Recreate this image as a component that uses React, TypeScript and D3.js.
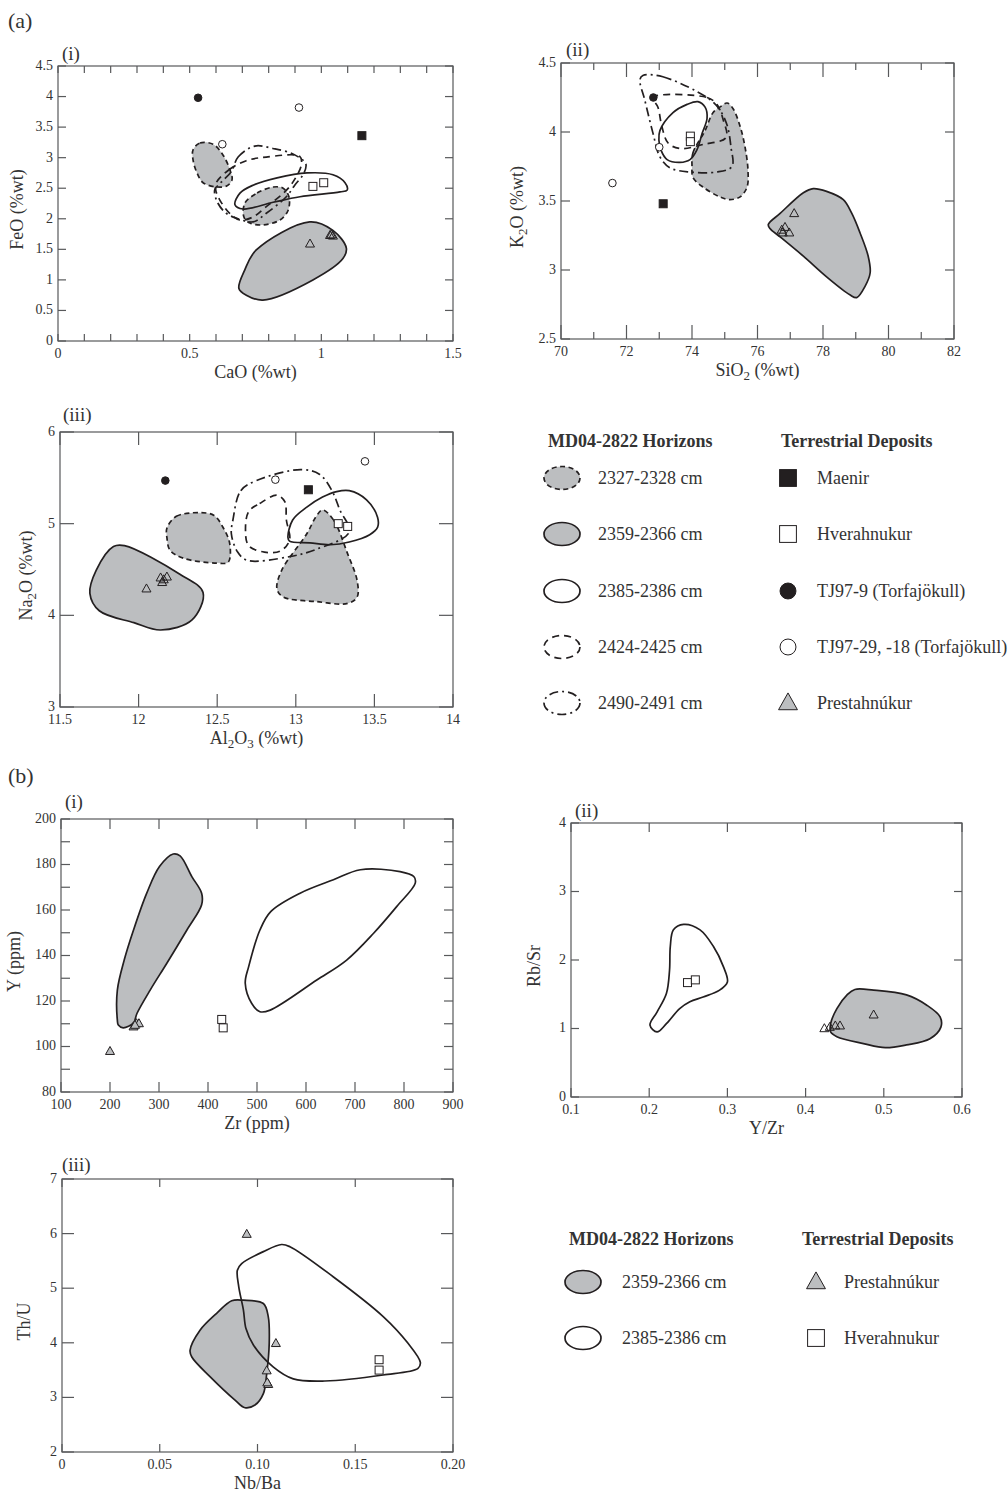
import React from "react";
import * as d3 from "d3";

type Pt = [number, number];

const FONT = "'Liberation Serif', 'Times New Roman', serif";
const INK = "#231f20";
const AXIS = "#58595b";
const TXT = "#333333";
const GRAY = "#bcbec0";
const WIDTH = 1008;
const HEIGHT = 1497;

// ---------- (a)(i) CaO vs FeO ----------
const A1_2327_UPPER: Pt[] = [[0.513, 3.13], [0.539, 3.24], [0.589, 3.22], [0.627, 3.04], [0.653, 2.8], [0.661, 2.64], [0.642, 2.54], [0.604, 2.52], [0.551, 2.59], [0.528, 2.75], [0.513, 2.96]];
const A1_2327_LOWER: Pt[] = [[0.71, 2.26], [0.756, 2.42], [0.817, 2.52], [0.855, 2.5], [0.877, 2.36], [0.874, 2.14], [0.843, 1.98], [0.779, 1.9], [0.729, 1.93], [0.706, 2.03]];
const A1_2359: Pt[] = [[0.687, 0.86], [0.709, 1.16], [0.753, 1.49], [0.956, 1.95], [1.044, 1.81], [1.095, 1.52], [1.082, 1.35], [0.968, 1.0], [0.778, 0.67], [0.715, 0.75]];
const A1_2385: Pt[] = [[0.672, 2.23], [0.691, 2.42], [0.741, 2.55], [0.832, 2.67], [0.946, 2.75], [1.044, 2.72], [1.09, 2.59], [1.098, 2.47], [1.071, 2.44], [0.919, 2.36], [0.817, 2.27], [0.703, 2.16]];
const A1_2424: Pt[] = [[0.601, 2.59], [0.652, 2.81], [0.715, 2.95], [0.791, 3.01], [0.918, 3.02], [0.924, 2.88], [0.892, 2.6], [0.854, 2.41], [0.791, 2.2], [0.741, 2.03], [0.69, 1.98], [0.652, 2.09], [0.614, 2.31], [0.599, 2.47]];
const A1_2490: Pt[] = [[0.658, 2.77], [0.684, 3.01], [0.747, 3.19], [0.816, 3.15], [0.892, 3.06], [0.941, 2.9], [0.933, 2.74], [0.899, 2.55], [0.867, 2.36], [0.791, 2.09], [0.741, 1.95], [0.677, 2.01], [0.639, 2.09], [0.608, 2.25], [0.595, 2.47], [0.62, 2.6]];
const A1_MAENIR: Pt[] = [[1.154, 3.36]];
const A1_HVERA: Pt[] = [[0.968, 2.53], [1.009, 2.59]];
const A1_TJ9: Pt[] = [[0.532, 3.98]];
const A1_TJ29: Pt[] = [[0.915, 3.82], [0.624, 3.22]];
const A1_PRESTA: Pt[] = [[0.957, 1.59], [1.033, 1.73], [1.044, 1.72], [1.038, 1.74]];

// ---------- (a)(ii) SiO2 vs K2O ----------
const A2_2327: Pt[] = [[74.0, 3.75], [74.03, 3.85], [74.4, 4.01], [74.64, 4.14], [74.85, 4.18], [75.07, 4.21], [75.25, 4.17], [75.47, 4.04], [75.62, 3.89], [75.71, 3.72], [75.68, 3.6], [75.47, 3.53], [75.16, 3.51], [74.85, 3.53], [74.34, 3.6], [74.03, 3.67]];
const A2_2359: Pt[] = [[76.33, 3.33], [76.69, 3.41], [77.4, 3.56], [77.7, 3.59], [78.11, 3.57], [78.62, 3.51], [78.88, 3.41], [79.13, 3.27], [79.38, 3.1], [79.44, 2.98], [79.28, 2.88], [79.03, 2.8], [78.82, 2.82], [78.11, 2.95], [77.4, 3.1], [76.69, 3.24], [76.38, 3.3]];
const A2_2385: Pt[] = [[73.02, 4.01], [73.42, 4.14], [73.85, 4.2], [74.18, 4.22], [74.4, 4.18], [74.46, 4.1], [74.31, 3.99], [74.15, 3.87], [73.94, 3.8], [73.63, 3.78], [73.24, 3.8], [73.05, 3.87], [72.99, 3.94]];
const A2_2424: Pt[] = [[72.81, 4.25], [74.46, 4.25], [74.76, 4.2], [74.95, 4.09], [75.04, 3.96], [74.34, 3.91], [73.63, 3.88], [73.27, 3.92], [73.08, 4.04], [72.96, 4.18]];
const A2_2490: Pt[] = [[72.5, 4.41], [73.11, 4.4], [74.46, 4.25], [74.82, 4.17], [75.07, 4.05], [75.19, 3.89], [75.22, 3.75], [74.76, 3.71], [73.94, 3.71], [73.33, 3.74], [73.02, 3.82], [72.81, 3.99], [72.56, 4.23], [72.41, 4.38]];
const A2_MAENIR: Pt[] = [[73.12, 3.48]];
const A2_HVERA: Pt[] = [[73.95, 3.97], [73.95, 3.93]];
const A2_TJ9: Pt[] = [[72.82, 4.25]];
const A2_TJ29: Pt[] = [[73.0, 3.89], [71.57, 3.63]];
const A2_PRESTA: Pt[] = [[77.12, 3.41], [76.74, 3.29], [76.84, 3.31], [76.97, 3.27], [76.77, 3.27]];

// ---------- (a)(iii) Al2O3 vs Na2O ----------
const A3_2327_LEFT: Pt[] = [[12.18, 4.95], [12.24, 5.08], [12.39, 5.12], [12.48, 5.09], [12.54, 4.95], [12.58, 4.78], [12.57, 4.58], [12.5, 4.57], [12.29, 4.62], [12.2, 4.71], [12.18, 4.85]];
const A3_2327_RIGHT: Pt[] = [[13.17, 5.15], [13.24, 5.04], [13.33, 4.67], [13.39, 4.38], [13.39, 4.2], [13.33, 4.13], [13.13, 4.15], [12.92, 4.2], [12.88, 4.29], [12.91, 4.49], [13.07, 4.89], [13.13, 5.08]];
const A3_2359: Pt[] = [[11.69, 4.24], [11.73, 4.49], [11.84, 4.75], [11.91, 4.76], [12.26, 4.45], [12.41, 4.25], [12.34, 3.95], [12.14, 3.84], [11.97, 3.92], [11.75, 4.05]];
const A3_2385: Pt[] = [[12.95, 4.85], [12.98, 5.04], [13.07, 5.18], [13.17, 5.29], [13.26, 5.35], [13.34, 5.36], [13.45, 5.26], [13.52, 5.07], [13.52, 4.96], [13.47, 4.88], [13.34, 4.8], [13.22, 4.77], [13.09, 4.79], [12.96, 4.81]];
const A3_2424: Pt[] = [[12.7, 5.13], [12.77, 5.22], [12.88, 5.31], [12.93, 5.24], [12.94, 5.04], [12.96, 4.82], [12.9, 4.7], [12.8, 4.69], [12.7, 4.76], [12.68, 4.93]];
const A3_2490: Pt[] = [[12.6, 5.04], [12.65, 5.36], [12.75, 5.47], [13.03, 5.59], [13.15, 5.54], [13.23, 5.36], [13.28, 5.15], [13.34, 4.91], [13.13, 4.72], [12.96, 4.64], [12.69, 4.6], [12.63, 4.69], [12.59, 4.89]];
const A3_MAENIR: Pt[] = [[13.08, 5.37]];
const A3_HVERA: Pt[] = [[13.27, 5.0], [13.33, 4.97]];
const A3_TJ9: Pt[] = [[12.17, 5.47]];
const A3_TJ29: Pt[] = [[12.87, 5.48], [13.44, 5.68]];
const A3_PRESTA: Pt[] = [[12.05, 4.29], [12.14, 4.41], [12.18, 4.42], [12.15, 4.36], [12.16, 4.39]];

// ---------- (b)(i) Zr vs Y ----------
const B1_2359: Pt[] = [[215, 111.6], [215, 124.8], [229, 138.0], [248, 151.2], [275, 167.4], [301, 179.1], [329, 184.6], [343, 183.8], [367, 174.7], [387, 167.4], [387, 162.3], [357, 151.2], [316, 136.6], [282, 124.8], [255, 114.5], [248, 110.4], [227, 108.2], [217, 109.4]];
const B1_2385: Pt[] = [[476, 127.8], [483, 135.1], [506, 151.2], [528, 159.3], [588, 167.4], [656, 173.3], [711, 177.7], [792, 176.9], [820, 174.7], [823, 171.8], [785, 161.5], [738, 149.8], [683, 138.0], [622, 129.2], [527, 116.0], [506, 115.3], [489, 119.0]];
const B1_PRESTA: Pt[] = [[200, 97.9], [248, 108.7], [254, 110.1], [259, 110.1], [251, 109.4]];
const B1_HVERA: Pt[] = [[428, 111.9], [431, 108.2]];

// ---------- (b)(ii) Y/Zr vs Rb/Sr ----------
const B2_2359: Pt[] = [[0.432, 1.07], [0.44, 1.29], [0.453, 1.49], [0.463, 1.57], [0.487, 1.56], [0.529, 1.49], [0.555, 1.34], [0.572, 1.17], [0.573, 1.02], [0.559, 0.85], [0.529, 0.76], [0.502, 0.72], [0.474, 0.78], [0.44, 0.88], [0.432, 0.95]];
const B2_2385: Pt[] = [[0.227, 2.2], [0.231, 2.44], [0.244, 2.52], [0.265, 2.44], [0.282, 2.2], [0.295, 1.9], [0.3, 1.68], [0.29, 1.56], [0.269, 1.46], [0.252, 1.39], [0.239, 1.29], [0.222, 1.07], [0.21, 0.95], [0.201, 1.05], [0.21, 1.24], [0.222, 1.51], [0.226, 1.85]];
const B2_PRESTA: Pt[] = [[0.424, 1.0], [0.431, 1.02], [0.438, 1.04], [0.444, 1.04], [0.487, 1.2]];
const B2_HVERA: Pt[] = [[0.249, 1.67], [0.259, 1.71]];

// ---------- (b)(iii) Nb/Ba vs Th/U ----------
const B3_2359: Pt[] = [[0.0655, 3.86], [0.0706, 4.23], [0.0791, 4.54], [0.0868, 4.77], [0.0928, 4.78], [0.103, 4.72], [0.1055, 4.48], [0.106, 3.99], [0.1047, 3.43], [0.103, 3.07], [0.0987, 2.86], [0.0936, 2.81], [0.0885, 2.95], [0.0757, 3.38], [0.0664, 3.74]];
const B3_2385: Pt[] = [[0.0897, 5.33], [0.0919, 5.45], [0.103, 5.67], [0.1123, 5.8], [0.1166, 5.76], [0.1387, 5.21], [0.1643, 4.48], [0.177, 3.99], [0.1833, 3.64], [0.1821, 3.53], [0.1643, 3.41], [0.1345, 3.3], [0.1183, 3.34], [0.108, 3.56], [0.0979, 3.96], [0.0941, 4.26], [0.0928, 4.6], [0.0904, 5.03]];
const B3_PRESTA: Pt[] = [[0.0945, 5.99], [0.1094, 3.99], [0.1047, 3.49], [0.1055, 3.24], [0.105, 3.27]];
const B3_HVERA: Pt[] = [[0.1622, 3.69], [0.1622, 3.5]];

// ---------- legends ----------
const LEGEND_A_HORIZONS = ["2327-2328 cm", "2359-2366 cm", "2385-2386 cm", "2424-2425 cm", "2490-2491 cm"];
const LEGEND_A_DEPOSITS = ["Maenir", "Hverahnukur", "TJ97-9 (Torfajökull)", "TJ97-29, -18 (Torfajökull)", "Prestahnúkur"];
const LEGEND_B_HORIZONS = ["2359-2366 cm", "2385-2386 cm"];
const LEGEND_B_DEPOSITS = ["Prestahnúkur", "Hverahnukur"];

const STYLES: Record<string, { fill: string; dash: string | null }> = {
  h2327: { fill: GRAY, dash: "5,3.5" },
  h2359: { fill: GRAY, dash: null },
  h2385: { fill: "none", dash: null },
  h2424: { fill: "none", dash: "7,5" },
  h2490: { fill: "none", dash: "9,4,2,4" },
};

const range = (a: number, b: number, s: number) =>
  d3.range(0, Math.round((b - a) / s) + 1).map((i) => +(a + i * s).toFixed(4));

type Seg = { t: string; sub?: boolean };

const PANELS = [
  {
    id: "a1", tag: "(i)", tagX: 62, tagY: 60,
    left: 58, right: 453, top: 66, bottom: 341,
    xDomain: [0, 1.5], yDomain: [0, 4.5],
    xTicks: range(0, 1.5, 0.1), xMajor: [0, 0.5, 1, 1.5], xLabels: ["0", "0.5", "1", "1.5"],
    yTicks: range(0, 4.5, 0.5), yMajor: range(0, 4.5, 0.5), yLabels: ["0", "0.5", "1", "1.5", "2", "2.5", "3", "3.5", "4", "4.5"],
    xMinorLen: 7, xMajorLen: 7, yLen: 8, yTitleOff: 35,
    xTitle: [{ t: "CaO (%wt)" }], yTitle: [{ t: "FeO (%wt)" }],
    shapes: [
      { pts: A1_2327_UPPER, s: "h2327" }, { pts: A1_2327_LOWER, s: "h2327" }, { pts: A1_2359, s: "h2359" },
      { pts: A1_2385, s: "h2385" }, { pts: A1_2424, s: "h2424" }, { pts: A1_2490, s: "h2490" },
    ],
    points: [
      { pts: A1_MAENIR, sym: "maenir" }, { pts: A1_HVERA, sym: "hvera" }, { pts: A1_TJ9, sym: "tj9" },
      { pts: A1_TJ29, sym: "tj29" }, { pts: A1_PRESTA, sym: "prestaOpen" },
    ],
  },
  {
    id: "a2", tag: "(ii)", tagX: 566, tagY: 56,
    left: 561, right: 954, top: 63, bottom: 339,
    xDomain: [70, 82], yDomain: [2.5, 4.5],
    xTicks: range(70, 82, 1), xMajor: range(70, 82, 2), xLabels: ["70", "72", "74", "76", "78", "80", "82"],
    yTicks: range(2.5, 4.5, 0.5), yMajor: range(2.5, 4.5, 0.5), yLabels: ["2.5", "3", "3.5", "4", "4.5"],
    xMinorLen: 7, xMajorLen: 14, yLen: 9, yTitleOff: 38,
    xTitle: [{ t: "SiO" }, { t: "2", sub: true }, { t: " (%wt)" }], yTitle: [{ t: "K" }, { t: "2", sub: true }, { t: "O (%wt)" }],
    shapes: [
      { pts: A2_2327, s: "h2327" }, { pts: A2_2359, s: "h2359" }, { pts: A2_2385, s: "h2385" },
      { pts: A2_2424, s: "h2424" }, { pts: A2_2490, s: "h2490" },
    ],
    points: [
      { pts: A2_MAENIR, sym: "maenir" }, { pts: A2_HVERA, sym: "hvera" }, { pts: A2_TJ9, sym: "tj9" },
      { pts: A2_TJ29, sym: "tj29" }, { pts: A2_PRESTA, sym: "prestaOpen" },
    ],
  },
  {
    id: "a3", tag: "(iii)", tagX: 63, tagY: 421,
    left: 60, right: 453, top: 432, bottom: 707,
    xDomain: [11.5, 14], yDomain: [3, 6],
    xTicks: range(11.5, 14, 0.5), xMajor: range(11.5, 14, 0.5), xLabels: ["11.5", "12", "12.5", "13", "13.5", "14"],
    yTicks: range(3, 6, 1), yMajor: range(3, 6, 1), yLabels: ["3", "4", "5", "6"],
    xMinorLen: 13, xMajorLen: 13, yLen: 14, yTitleOff: 28,
    xTitle: [{ t: "Al" }, { t: "2", sub: true }, { t: "O" }, { t: "3", sub: true }, { t: " (%wt)" }],
    yTitle: [{ t: "Na" }, { t: "2", sub: true }, { t: "O (%wt)" }],
    shapes: [
      { pts: A3_2327_LEFT, s: "h2327" }, { pts: A3_2327_RIGHT, s: "h2327" }, { pts: A3_2359, s: "h2359" },
      { pts: A3_2385, s: "h2385" }, { pts: A3_2424, s: "h2424" }, { pts: A3_2490, s: "h2490" },
    ],
    points: [
      { pts: A3_MAENIR, sym: "maenir" }, { pts: A3_HVERA, sym: "hvera" }, { pts: A3_TJ9, sym: "tj9" },
      { pts: A3_TJ29, sym: "tj29" }, { pts: A3_PRESTA, sym: "prestaOpen" },
    ],
  },
  {
    id: "b1", tag: "(i)", tagX: 65, tagY: 808,
    left: 61, right: 453, top: 819, bottom: 1092,
    xDomain: [100, 900], yDomain: [80, 200],
    xTicks: range(100, 900, 100), xMajor: range(100, 900, 100), xLabels: ["100", "200", "300", "400", "500", "600", "700", "800", "900"],
    yTicks: range(80, 200, 10), yMajor: range(80, 200, 20), yLabels: ["80", "100", "120", "140", "160", "180", "200"],
    xMinorLen: 10, xMajorLen: 10, yLen: 9, yTitleOff: 41,
    xTitle: [{ t: "Zr (ppm)" }], yTitle: [{ t: "Y (ppm)" }],
    shapes: [{ pts: B1_2359, s: "h2359" }, { pts: B1_2385, s: "h2385" }],
    points: [{ pts: B1_PRESTA, sym: "presta" }, { pts: B1_HVERA, sym: "hvera" }],
  },
  {
    id: "b2", tag: "(ii)", tagX: 575, tagY: 817,
    left: 571, right: 962, top: 823, bottom: 1097,
    xDomain: [0.1, 0.6], yDomain: [0, 4],
    xTicks: range(0.1, 0.6, 0.1), xMajor: range(0.1, 0.6, 0.1), xLabels: ["0.1", "0.2", "0.3", "0.4", "0.5", "0.6"],
    yTicks: range(0, 4, 1), yMajor: range(0, 4, 1), yLabels: ["0", "1", "2", "3", "4"],
    xMinorLen: 9, xMajorLen: 9, yLen: 8, yTitleOff: 31,
    xTitle: [{ t: "Y/Zr" }], yTitle: [{ t: "Rb/Sr" }],
    shapes: [{ pts: B2_2359, s: "h2359" }, { pts: B2_2385, s: "h2385" }],
    points: [{ pts: B2_PRESTA, sym: "prestaOpen" }, { pts: B2_HVERA, sym: "hvera" }],
  },
  {
    id: "b3", tag: "(iii)", tagX: 62, tagY: 1171,
    left: 62, right: 453, top: 1179, bottom: 1452,
    xDomain: [0, 0.2], yDomain: [2, 7],
    xTicks: range(0, 0.2, 0.05), xMajor: range(0, 0.2, 0.05), xLabels: ["0", "0.05", "0.10", "0.15", "0.20"],
    yTicks: range(2, 7, 1), yMajor: range(2, 7, 1), yLabels: ["2", "3", "4", "5", "6", "7"],
    xMinorLen: 8, xMajorLen: 8, yLen: 12, yTitleOff: 32,
    xTitle: [{ t: "Nb/Ba" }], yTitle: [{ t: "Th/U" }],
    shapes: [{ pts: B3_2359, s: "h2359" }, { pts: B3_2385, s: "h2385" }],
    points: [{ pts: B3_PRESTA, sym: "presta" }, { pts: B3_HVERA, sym: "hvera" }],
  },
];

const Title = ({ segs, x, y, rotate }: { segs: Seg[]; x: number; y: number; rotate?: boolean }) => {
  let wasSub = false;
  return (
    <text x={x} y={y} textAnchor="middle" fontSize={18} fill={TXT}
      transform={rotate ? `rotate(-90, ${x}, ${y})` : undefined}>
      {segs.map((s, i) => {
        const dy = s.sub ? 4 : wasSub ? -4 : 0;
        wasSub = !!s.sub;
        return (
          <tspan key={i} dy={dy} fontSize={s.sub ? 13 : 18}>{s.t}</tspan>
        );
      })}
    </text>
  );
};

const Symbol = ({ sym, cx, cy, size = 1 }: { sym: string; cx: number; cy: number; size?: number }) => {
  const sq = 8 * size;
  if (sym === "maenir" || sym === "hvera")
    return (
      <rect x={cx - sq / 2} y={cy - sq / 2} width={sq} height={sq}
        fill={sym === "maenir" ? INK : "#fff"} stroke={INK} strokeWidth={1} />
    );
  if (sym === "tj9" || sym === "tj29")
    return <circle cx={cx} cy={cy} r={3.8 * size} fill={sym === "tj9" ? INK : "#fff"} stroke={INK} strokeWidth={1} />;
  const h = 8 * size;
  const w = 9 * size;
  const pts = [[cx, cy - h * 0.6], [cx + w / 2, cy + h * 0.4], [cx - w / 2, cy + h * 0.4]].map((p) => p.join(",")).join(" ");
  return <polygon points={pts} fill={sym === "presta" ? GRAY : "none"} stroke={INK} strokeWidth={1} />;
};

const Panel = ({ p }: { p: (typeof PANELS)[number] }) => {
  const x = d3.scaleLinear().domain(p.xDomain).range([p.left, p.right]);
  const y = d3.scaleLinear().domain(p.yDomain).range([p.bottom, p.top]);
  const line = d3
    .line<Pt>()
    .x((d) => x(d[0]))
    .y((d) => y(d[1]))
    .curve(d3.curveCatmullRomClosed.alpha(0.5));
  const isMajor = (v: number, arr: number[]) => arr.some((m) => Math.abs(m - v) < 1e-6);

  return (
    <g id={p.id}>
      {/* fills first, then outlines */}
      {p.shapes.map((sh, i) =>
        STYLES[sh.s].fill !== "none" ? <path key={"f" + i} d={line(sh.pts) || ""} fill={STYLES[sh.s].fill} stroke="none" /> : null
      )}
      {p.shapes.map((sh, i) => (
        <path key={"s" + i} d={line(sh.pts) || ""} fill="none" stroke={INK} strokeWidth={1.7}
          strokeDasharray={STYLES[sh.s].dash || undefined} strokeLinejoin="round" />
      ))}
      {p.points.map((g, gi) =>
        g.pts.map((d, i) => <Symbol key={gi + "-" + i} sym={g.sym} cx={x(d[0])} cy={y(d[1])} />)
      )}

      <rect x={p.left} y={p.top} width={p.right - p.left} height={p.bottom - p.top} fill="none" stroke={AXIS} strokeWidth={1.2} />
      {p.xTicks.map((v) => {
        const len = isMajor(v, p.xMajor) ? p.xMajorLen : p.xMinorLen;
        return (
          <g key={"xt" + v} stroke={AXIS} strokeWidth={1.2}>
            <line x1={x(v)} x2={x(v)} y1={p.bottom} y2={p.bottom - len} />
            <line x1={x(v)} x2={x(v)} y1={p.top} y2={p.top + len} />
          </g>
        );
      })}
      {p.yTicks.map((v) => (
        <g key={"yt" + v} stroke={AXIS} strokeWidth={1.2}>
          <line x1={p.left} x2={p.left + p.yLen} y1={y(v)} y2={y(v)} />
          <line x1={p.right} x2={p.right - p.yLen} y1={y(v)} y2={y(v)} />
        </g>
      ))}
      {p.xMajor.map((v, i) => (
        <text key={"xl" + v} x={x(v)} y={p.bottom + 17} textAnchor="middle" fontSize={14} fill={TXT}>{p.xLabels[i]}</text>
      ))}
      {p.yMajor.map((v, i) => (
        <text key={"yl" + v} x={p.left - 5} y={y(v)} dy="0.28em" textAnchor="end" fontSize={14} fill={TXT}>{p.yLabels[i]}</text>
      ))}
      <Title segs={p.xTitle} x={(p.left + p.right) / 2} y={p.bottom + 37} />
      <Title segs={p.yTitle} x={p.left - p.yTitleOff} y={(p.top + p.bottom) / 2 + 6} rotate />
      <text x={p.tagX} y={p.tagY} fontSize={19} fill={TXT}>{p.tag}</text>
    </g>
  );
};

const LegendEllipse = ({ cx, cy, s }: { cx: number; cy: number; s: string }) => (
  <ellipse cx={cx} cy={cy} rx={18} ry={11.5} fill={STYLES[s].fill === "none" ? "#fff" : STYLES[s].fill}
    stroke={INK} strokeWidth={1.7} strokeDasharray={STYLES[s].dash || undefined} />
);

const Legend = ({ x0, x1, y0, rowY, horizons, hStyles, deposits, dSyms, hTextX, dSymX, dTextX }: any) => (
  <g fontSize={18} fill={TXT}>
    <text x={x0} y={y0} fontWeight="bold">MD04-2822 Horizons</text>
    <text x={x1} y={y0} fontWeight="bold">Terrestrial Deposits</text>
    {horizons.map((h: string, i: number) => (
      <g key={"h" + i}>
        <LegendEllipse cx={x0 + 14} cy={rowY[i]} s={hStyles[i]} />
        <text x={hTextX} y={rowY[i] + 6}>{h}</text>
      </g>
    ))}
    {deposits.map((d: string, i: number) => (
      <g key={"d" + i}>
        <Symbol sym={dSyms[i]} cx={dSymX} cy={rowY[i]} size={2.1} />
        <text x={dTextX} y={rowY[i] + 6}>{d}</text>
      </g>
    ))}
  </g>
);

export default function App() {
  return (
    <svg width={WIDTH} height={HEIGHT} style={{ position: "absolute", left: 0, top: 0, background: "#fff" }} fontFamily={FONT}>
      <rect width={WIDTH} height={HEIGHT} fill="#fff" />
      <text x={8} y={28} fontSize={22} fill={TXT}>(a)</text>
      <text x={8} y={783} fontSize={22} fill={TXT}>(b)</text>
      {PANELS.map((p) => (
        <Panel key={p.id} p={p} />
      ))}
      <Legend x0={548} x1={781} y0={447} rowY={[478, 534, 591, 647, 703]}
        horizons={LEGEND_A_HORIZONS} hStyles={["h2327", "h2359", "h2385", "h2424", "h2490"]}
        deposits={LEGEND_A_DEPOSITS} dSyms={["maenir", "hvera", "tj9", "tj29", "presta"]}
        hTextX={598} dSymX={788} dTextX={817} />
      <Legend x0={569} x1={802} y0={1245} rowY={[1282, 1338]}
        horizons={LEGEND_B_HORIZONS} hStyles={["h2359", "h2385"]}
        deposits={LEGEND_B_DEPOSITS} dSyms={["presta", "hvera"]}
        hTextX={622} dSymX={816} dTextX={844} />
    </svg>
  );
}
